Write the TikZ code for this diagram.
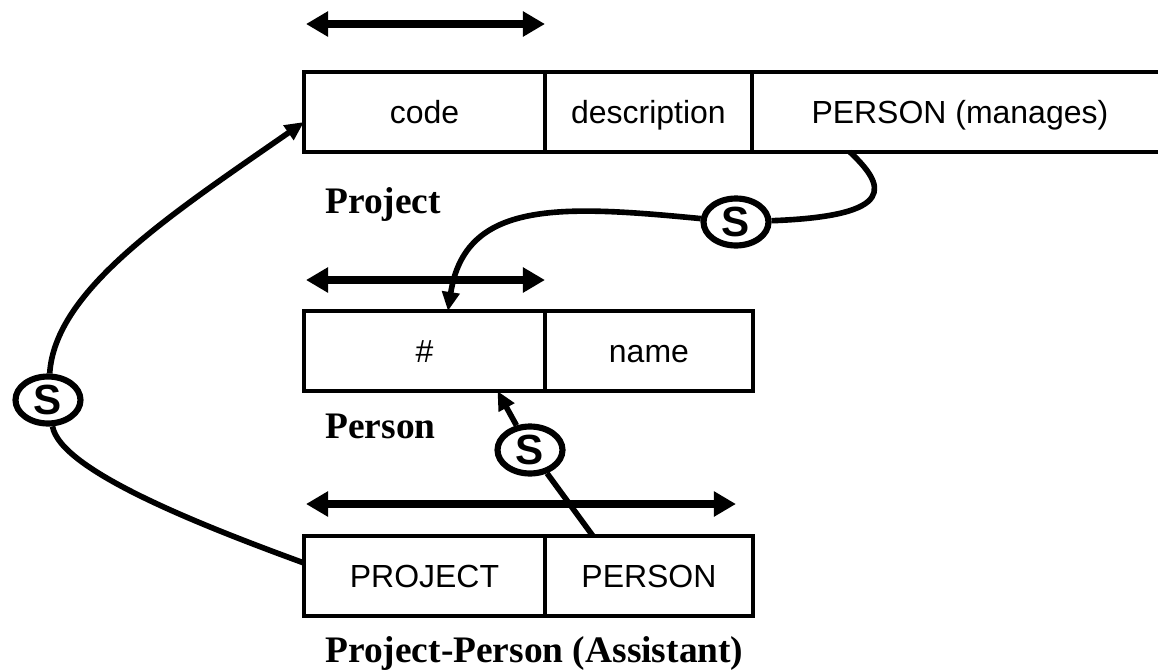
\documentclass[tikz,border=0pt]{standalone}
\usepackage{fontspec}
\setmainfont{Liberation Serif}
\newfontfamily\cellfont{Liberation Sans}
\usetikzlibrary{arrows.meta,shapes.geometric}

\tikzset{
  cell/.style={draw, line width=2pt, minimum height=1.6cm, inner sep=0pt, outer sep=0pt,
    text height=13pt, text depth=0pt, font=\cellfont\fontsize{18.2}{20}\selectfont},
  lbl/.style={inner sep=0pt, font=\bfseries\fontsize{21.3}{24}\selectfont},
  keyspan/.style={line width=4.5pt,
    {Triangle[length=0.44cm,width=0.48cm]}-{Triangle[length=0.44cm,width=0.48cm]}},
  link/.style={line width=3.2pt},
  ahead/.style={-{Triangle[length=0.38cm,width=0.34cm]}},
  sym/.style={draw, ellipse, line width=3.5pt, minimum width=1.3cm, minimum height=0.94cm,
    inner sep=0pt, fill=white, font=\cellfont\bfseries\fontsize{24}{26}\selectfont}
}

\begin{document}
\begin{tikzpicture}[x=0.02cm, y=-0.02cm]
\useasboundingbox (0,0) rectangle (1158,669);

% Project
\node[cell, minimum width=4.82cm, anchor=north west] (code) at (304,72) {code};
\node[cell, minimum width=4.14cm, anchor=west] (desc) at (code.east) {description};
\node[cell, minimum width=8.32cm, anchor=west] (pm) at (desc.east) {PERSON (manages)};
\node[lbl, anchor=base west] (projlbl) at (325,213) {Project};
\draw[keyspan] ([xshift=0.04cm,yshift=0.96cm]code.north west) -- ([yshift=0.96cm]code.north east);

% Person
\node[cell, minimum width=4.82cm, anchor=north west] (pnum) at (304,311) {\#};
\node[cell, minimum width=4.16cm, anchor=west] (pname) at (pnum.east) {name};
\node[lbl, anchor=base west] (perslbl) at (325,438) {Person};
\draw[keyspan] ([xshift=0.04cm,yshift=0.62cm]pnum.north west) -- ([yshift=0.62cm]pnum.north east);

% Project-Person
\node[cell, minimum width=4.82cm, anchor=north west] (pproj) at (304,536) {PROJECT};
\node[cell, minimum width=4.16cm, anchor=west] (pper) at (pproj.east) {PERSON};
\node[lbl, anchor=base west] (pplbl) at (325,662) {Project-Person (Assistant)};
\draw[keyspan] ([xshift=0.04cm,yshift=0.64cm]pproj.north west) -- ([xshift=-0.34cm,yshift=0.64cm]pper.north east);

% references
\node[sym] (s1) at (736,222) {S};
\node[sym] (s2) at (48,400) {S};
\node[sym] (s3) at (530,450) {S};

\draw[link] ([xshift=-2.2cm]pm.south) .. controls (885,185) and (900,216) .. (s1);
\draw[link, ahead] (s1) .. controls (560,205) and (465,200) .. ([xshift=0.47cm]pnum.north);

\draw[link] ([yshift=0.26cm]pproj.west) .. controls (200,525) and (60,470) .. (s2);
\draw[link, ahead] (s2) .. controls (55,290) and (170,215) .. ([yshift=-0.2cm]code.west);

\draw[link] ([xshift=-1.12cm]pper.north) -- (s3);
\draw[link, ahead] (s3) -- ([xshift=1.46cm]pnum.south);
\end{tikzpicture}
\end{document}
